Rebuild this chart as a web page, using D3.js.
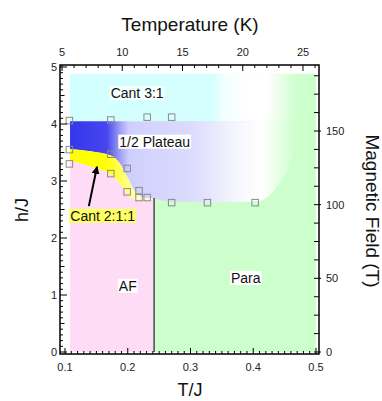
<!DOCTYPE html>
<html><head><meta charset="utf-8">
<script src="https://cdn.jsdelivr.net/npm/d3@7"></script>
<style>html,body{margin:0;padding:0;background:#fff;}svg{display:block;font-family:"Liberation Sans",Arial,Helvetica,sans-serif;}</style>
</head><body>
<svg id="chart" width="382" height="401"></svg>
<script>
// ---- data ----
const tempTicks = [5, 10, 15, 20, 25];
const tjTicks = [0.1, 0.2, 0.3, 0.4, 0.5];
const hTicks = [0, 1, 2, 3, 4, 5];
const fieldTicks = [0, 50, 100, 150];

const markerT = [0.107, 0.173, 0.231, 0.270, 0.107, 0.107, 0.173, 0.173, 0.199, 0.199, 0.218, 0.218, 0.231, 0.270, 0.327, 0.403];
const markerH = [4.06, 4.07, 4.12, 4.12, 3.55, 3.30, 3.47, 3.13, 3.22, 2.81, 2.83, 2.71, 2.71, 2.62, 2.62, 2.62];

// phase boundaries (T/J, h/J)
const yellowUpperT = [0.108, 0.14, 0.172, 0.185, 0.198, 0.209, 0.218, 0.23, 0.242];
const yellowUpperH = [3.56, 3.52, 3.45, 3.34, 3.10, 2.86, 2.74, 2.70, 2.69];
const yellowLowerT = [0.108, 0.14, 0.172, 0.186, 0.198, 0.206, 0.215, 0.242];
const yellowLowerH = [3.36, 3.26, 3.12, 2.98, 2.80, 2.70, 2.67, 2.67];
const paraTopT = [0.242, 0.27, 0.33, 0.38, 0.411, 0.443, 0.459, 0.47, 0.48];
const paraTopH = [2.69, 2.64, 2.63, 2.63, 2.65, 2.99, 3.31, 3.7, 4.05];
const tMin = 0.108, tMax = 0.5, tNeel = 0.242, hTop = 4.88, hPlateau = 4.05, hNeelTop = 2.70;

const labels = [
  {text: "Cant 3:1", t: 0.215, h: 4.54, bg: "#f4ffff"},
  {text: "1/2 Plateau", t: 0.243, h: 3.69, bg: "#ffffff"},
  {text: "Cant 2:1:1", t: 0.160, h: 2.39, bg: "#ffff66"},
  {text: "AF", t: 0.200, h: 1.16, bg: "#ffffff"},
  {text: "Para", t: 0.388, h: 1.30, bg: "#ffffff"}
];
const arrowFrom = [0.138, 2.56], arrowTo = [0.151, 3.25];

// ---- scales ----
const x = d3.scaleLinear().domain([0.1, 0.5]).range([65, 316]);
const xK = d3.scaleLinear().domain([5, 25]).range([62, 303]);
const y = d3.scaleLinear().domain([0, 5]).range([352, 67]);
const yB = d3.scaleLinear().domain([0, 150]).range([352, 131]);
const F = {l: 60, r: 319, t: 65, b: 354};

const svg = d3.select("#chart");
const defs = svg.append("defs");

function grad(id, stops) {
  const g = defs.append("linearGradient").attr("id", id).attr("gradientUnits", "userSpaceOnUse")
    .attr("x1", x(tMin)).attr("x2", x(tMax)).attr("y1", 0).attr("y2", 0);
  stops.forEach(s => g.append("stop").attr("offset", s[0]).attr("stop-color", s[1]).attr("stop-opacity", s[2] === undefined ? 1 : s[2]));
}
grad("gCant31", [[0, "#d2ffff"], [0.58, "#d6ffff"], [0.62, "#f0ffff"], [0.72, "#ffffff"], [0.8, "#ffffff"], [0.93, "#ffffff", 0]]);
grad("gPlat", [[0, "#3636ec"], [0.15, "#4646ef"], [0.2, "#9a9af6"], [0.24, "#cfcffd"], [0.5, "#dcdcfd"], [0.68, "#f6f6ff"], [0.78, "#ffffff"], [0.92, "#ffffff", 0]]);
grad("gYel", [[0, "#ffff00"], [0.15, "#ffff08"], [0.22, "#ffff70"], [0.3, "#ffffd0"], [0.36, "#fffff4"]]);

const line = d3.line().x(d => x(d[0])).y(d => y(d[1])).curve(d3.curveMonotoneX);
const zip = (a, b) => a.map((v, i) => [v, b[i]]);
const upper = zip(yellowUpperT, yellowUpperH);
const lower = zip(yellowLowerT, yellowLowerH);
const paraTop = zip(paraTopT, paraTopH);

// para (green)
svg.append("rect").attr("x", x(tNeel)).attr("y", y(hTop)).attr("width", x(tMax) - x(tNeel)).attr("height", y(0) - y(hTop)).attr("fill", "#ccffcc");
// AF (pink)
svg.append("path").attr("fill", "#ffdcf6")
  .attr("d", line(lower) + `L${x(tNeel)},${y(0)}L${x(tMin)},${y(0)}Z`);
// Cant 3:1
svg.append("rect").attr("x", x(tMin)).attr("y", y(hTop)).attr("width", x(tMax) - x(tMin)).attr("height", y(hPlateau) - y(hTop)).attr("fill", "url(#gCant31)");
// 1/2 plateau
const platPath = `M${x(tMin)},${y(hPlateau)}L${x(0.48)},${y(hPlateau)}` +
  line(paraTop.slice().reverse()).replace(/^M/, "L") +
  line(upper.slice().reverse()).replace(/^M/, "L") + "Z";
svg.append("path").attr("d", platPath).attr("fill", "url(#gPlat)");
// Cant 2:1:1 (yellow)
svg.append("path").attr("fill", "url(#gYel)")
  .attr("d", line(upper) + line(lower.slice().reverse()).replace(/^M/, "L") + "Z");

// Neel line
svg.append("line").attr("x1", x(tNeel)).attr("x2", x(tNeel)).attr("y1", y(hNeelTop)).attr("y2", y(0))
  .attr("stroke", "#555").attr("stroke-width", 1.6);

// markers
const ms = 6.5;
svg.append("g").selectAll("rect").data(zip(markerT, markerH)).join("rect")
  .attr("x", d => x(d[0]) - ms / 2).attr("y", d => y(d[1]) - ms / 2).attr("width", ms).attr("height", ms)
  .attr("fill", "none").attr("stroke", "#8a8a8a").attr("stroke-width", 1);

// labels
labels.forEach(L => {
  const g = svg.append("g");
  const t = g.append("text").attr("x", x(L.t)).attr("y", y(L.h)).attr("text-anchor", "middle")
    .attr("dominant-baseline", "central").attr("font-size", 14).attr("fill", "#111").text(L.text);
  const bb = t.node().getBBox();
  g.insert("rect", "text").attr("x", bb.x - 1).attr("y", bb.y + 1).attr("width", bb.width + 2).attr("height", bb.height - 2).attr("fill", L.bg);
});

// arrow
defs.append("marker").attr("id", "ah").attr("viewBox", "0 0 10 10").attr("refX", 9).attr("refY", 5)
  .attr("markerWidth", 4).attr("markerHeight", 4).attr("orient", "auto")
  .append("path").attr("d", "M0,0L10,5L0,10Z").attr("fill", "#000");
svg.append("line").attr("x1", x(arrowFrom[0])).attr("y1", y(arrowFrom[1])).attr("x2", x(arrowTo[0])).attr("y2", y(arrowTo[1]))
  .attr("stroke", "#000").attr("stroke-width", 2).attr("marker-end", "url(#ah)");

// frame
svg.append("rect").attr("x", F.l).attr("y", F.t).attr("width", F.r - F.l).attr("height", F.b - F.t)
  .attr("fill", "none").attr("stroke", "#000").attr("stroke-width", 1.5);

// ticks
const tk = svg.append("g").attr("stroke", "#000").attr("stroke-width", 1);
d3.range(0.1, 0.5001, 0.01).forEach(v => {
  const major = Math.abs(v * 10 - Math.round(v * 10)) < 1e-6;
  const len = major ? 6 : 3;
  tk.append("line").attr("x1", x(v)).attr("x2", x(v)).attr("y1", F.b).attr("y2", F.b - len);
});
d3.range(0, 5.0001, 0.1).forEach(v => {
  const major = Math.abs(v - Math.round(v)) < 1e-6;
  const half = Math.abs(v * 2 - Math.round(v * 2)) < 1e-6;
  const len = major ? 7 : (half ? 4.5 : 3);
  tk.append("line").attr("x1", F.l).attr("x2", F.l + len).attr("y1", y(v)).attr("y2", y(v));
});
d3.range(5, 26.001, 1).forEach(v => {
  const len = v % 5 === 0 ? 6 : 3;
  tk.append("line").attr("x1", xK(v)).attr("x2", xK(v)).attr("y1", F.t).attr("y2", F.t + len);
});
d3.range(0, 190, 12.5).forEach(v => {
  const major = v % 50 === 0;
  tk.append("line").attr("x1", F.r + (major ? 2 : 0)).attr("x2", F.r - 5).attr("y1", yB(v)).attr("y2", yB(v));
});

// tick labels
const tl = svg.append("g").attr("font-size", 11).attr("fill", "#222");
tjTicks.forEach(v => tl.append("text").attr("x", x(v)).attr("y", 371).attr("text-anchor", "middle").text(d3.format(".1f")(v)));
tempTicks.forEach(v => tl.append("text").attr("x", xK(v)).attr("y", 56).attr("text-anchor", "middle").text(v));
hTicks.forEach(v => tl.append("text").attr("x", 57).attr("y", y(v)).attr("text-anchor", "end").attr("dominant-baseline", "central").text(v));
fieldTicks.forEach(v => tl.append("text").attr("x", 326).attr("y", yB(v)).attr("text-anchor", "start").attr("dominant-baseline", "central").text(v));

// axis titles
const at = svg.append("g").attr("font-size", 18).attr("fill", "#111").attr("text-anchor", "middle");
at.append("text").attr("x", 190).attr("y", 31).attr("font-size", 19).text("Temperature (K)");
at.append("text").attr("x", 190).attr("y", 396).text("T/J");
at.append("text").attr("transform", "translate(28,210) rotate(-90)").text("h/J");
at.append("text").attr("transform", "translate(366,211) rotate(90)").attr("font-size", 19).text("Magnetic Field (T)");
</script>
</body></html>
